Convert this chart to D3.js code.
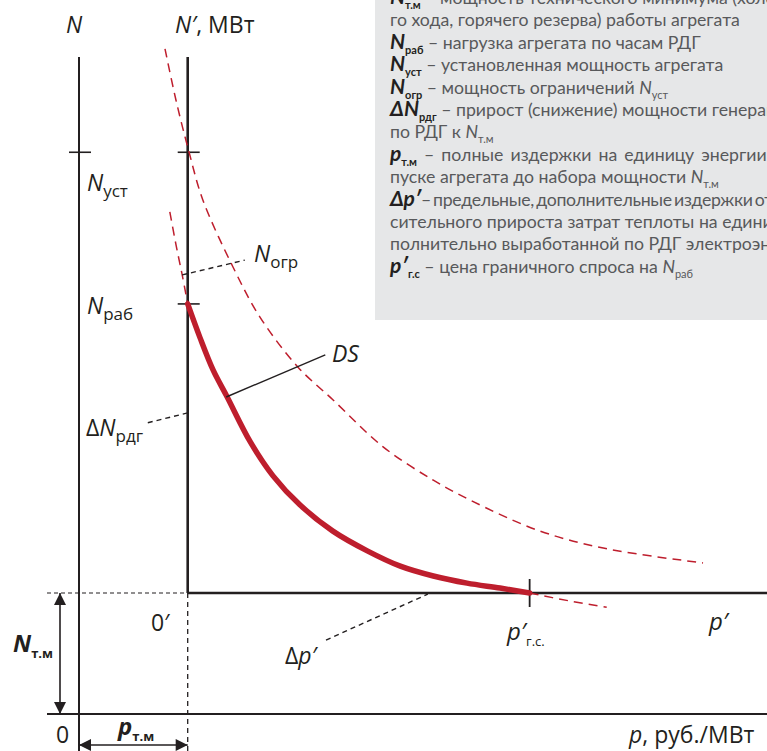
<!DOCTYPE html>
<html>
<head>
<meta charset="utf-8">
<script src="https://cdn.jsdelivr.net/npm/d3@7"></script>
<style>
  body { margin: 0; background: #fff; }
  svg { display: block; font-family: "Open Sans", sans-serif; }
  .lbl { fill: #231f20; font-size: 23px; }
  .leg { fill: #58595b; font-family: Lato, sans-serif; font-size: 17.7px; }
  .leg .b { fill: #231f20; font-weight: bold; font-style: italic; }
</style>
</head>
<body>
<svg width="767" height="751"></svg>
<script>
// key values (p in conventional units of руб./МВт, N in MW-like units)
const pTm = 15.8;      // p_т.м
const pGs = 65.5;      // p'_г.с
const nTm = 22.1;      // N_т.м
const nRab = 74.9;     // N_раб
const nUst = 102.6;    // N_уст
const pMax = 100, nMax = 120;

// demand curve DS (thick)
const dsP = [15.8, 17.6, 19.5, 21.5, 24.9, 28.2, 32.1, 36.9, 41.9, 46.7, 51.5, 56.4, 61.2, 65.5];
const dsN = [74.9, 68.7, 62.8, 58.0, 49.7, 43.5, 38.2, 33.4, 29.8, 27.0, 25.2, 23.9, 23.0, 22.1];
// dashed continuations of DS
const dsUpP = [13.2, 14.1, 15.0, 15.8];
const dsUpN = [91.7, 85.7, 80.2, 74.9];
const dsLowP = [65.5, 71.1, 76.7];
const dsLowN = [22.1, 20.7, 19.5];
// outer dashed curve (N_уст limit)
const ouP = [12.5, 14.1, 16.0, 18.0, 22.4, 26.3, 31.8, 36.9, 44.2, 51.5, 56.8, 66.6, 76.2, 90.7];
const ouN = [121.5, 112.1, 102.6, 93.9, 81.6, 72.5, 63.4, 57.4, 48.8, 42.7, 39.1, 33.6, 30.3, 27.6];

const legendLines = [
  [['b', 'N'], ['bs', 'т.м'], ['n', ' – мощность технического минимума (холостого']],
  [['n', 'го хода, горячего резерва) работы агрегата']],
  [['b', 'N'], ['bs', 'раб'], ['n', ' – нагрузка агрегата по часам РДГ']],
  [['b', 'N'], ['bs', 'уст'], ['n', ' – установленная мощность агрегата']],
  [['b', 'N'], ['bs', 'огр'], ['n', ' – мощность ограничений '], ['i', 'N'], ['s', 'уст']],
  [['b', 'ΔN'], ['bs', 'рдг'], ['n', ' – прирост (снижение) мощности генерации']],
  [['n', 'по РДГ к '], ['i', 'N'], ['s', 'т.м']],
  [['b', 'p'], ['bs', 'т.м'], ['n', ' – полные издержки на единицу энергии при']],
  [['n', 'пуске агрегата до набора мощности '], ['i', 'N'], ['s', 'т.м']],
  [['b', 'Δp′'], ['n', '– предельные, дополнительные издержки от']],
  [['n', 'сительного прироста затрат теплоты на единицу до']],
  [['n', 'полнительно выработанной по РДГ электроэнергии']],
  [['b', 'p′'], ['bs', 'г.с'], ['n', ' – цена граничного спроса на '], ['i', 'N'], ['s', 'раб']]
];

const svg = d3.select('svg');
const W = 767, H = 751;
const dark = '#231f20', red = '#be1e2d';

const x = d3.scaleLinear().domain([0, pMax]).range([79, 767]);
const y = d3.scaleLinear().domain([0, nMax]).range([714, 57]);

const line = d3.line().x(d => x(d[0])).y(d => y(d[1])).curve(d3.curveCatmullRom);
const zip = (a, b) => a.map((v, i) => [v, b[i]]);

// legend box
const lg = svg.append('g');
lg.append('rect')
    .attr('x', 375).attr('y', -5)
    .attr('width', 400).attr('height', 325)
    .attr('fill', '#e6e7e8');

legendLines.forEach((parts, i) => {
    const legText = lg.append('text').attr('class', 'leg')
        .attr('x', 390).attr('y', 4 + 22.4 * i);
    if (i === 7) legText.style('word-spacing', '2.5px');
    if (i === 9) legText.style('letter-spacing', '-0.3px').style('word-spacing', '-2px');
    let shifted = false;
    parts.forEach(p => {
        const t = legText.append('tspan').text(p[1]);
        const sub = p[0] === 'bs' || p[0] === 's';
        if (sub && !shifted) { t.attr('dy', 5); shifted = true; }
        else if (!sub && shifted) { t.attr('dy', -5); shifted = false; }
        if (p[0] === 'b') t.attr('class', 'b').style('font-size', '21px');
        if (p[0] === 'bs') t.attr('class', 'b').style('font-size', '11px').style('font-style', 'normal');
        if (p[0] === 'i') t.style('font-style', 'italic');
        if (p[0] === 's') t.style('font-size', '11px');
    });
});

// axes
const ax = svg.append('g').attr('stroke', dark).attr('fill', 'none');
ax.append('line').attr('x1', x(0)).attr('x2', x(0)).attr('y1', y(nMax)).attr('y2', H).attr('stroke-width', 2);
ax.append('line').attr('x1', 47).attr('x2', W).attr('y1', y(0)).attr('y2', y(0)).attr('stroke-width', 2);
ax.append('line').attr('x1', x(pTm)).attr('x2', x(pTm)).attr('y1', y(nMax)).attr('y2', y(nTm)).attr('stroke-width', 2.6);
ax.append('line').attr('x1', x(pTm)).attr('x2', W).attr('y1', y(nTm)).attr('y2', y(nTm)).attr('stroke-width', 2.6);
// dashed construction lines of the shifted origin 0'
ax.append('line').attr('x1', x(pTm)).attr('x2', x(pTm)).attr('y1', y(nTm)).attr('y2', H)
    .attr('stroke-width', 1.3).attr('stroke-dasharray', '5,4');
ax.append('line').attr('x1', 47).attr('x2', x(pTm)).attr('y1', y(nTm)).attr('y2', y(nTm))
    .attr('stroke-width', 1.1).attr('stroke-dasharray', '4,3');

// ticks
[[0, nUst], [pTm, nUst], [pTm, nRab]].forEach(d => {
    ax.append('line').attr('x1', x(d[0]) - 10).attr('x2', x(d[0]) + 12)
        .attr('y1', y(d[1])).attr('y2', y(d[1])).attr('stroke-width', 1.6);
});
ax.append('line').attr('x1', x(pGs)).attr('x2', x(pGs))
    .attr('y1', y(nTm) - 14).attr('y2', y(nTm) + 14).attr('stroke-width', 1.8);

// curves
svg.append('path').attr('d', line(zip(ouP, ouN)))
    .attr('fill', 'none').attr('stroke', red).attr('stroke-width', 1.5).attr('stroke-dasharray', '9,6');
svg.append('path').attr('d', line(zip(dsUpP, dsUpN)))
    .attr('fill', 'none').attr('stroke', red).attr('stroke-width', 1.5).attr('stroke-dasharray', '9,6');
svg.append('path').attr('d', line(zip(dsLowP, dsLowN)))
    .attr('fill', 'none').attr('stroke', red).attr('stroke-width', 1.5).attr('stroke-dasharray', '9,6');
svg.append('path').attr('d', line(zip(dsP, dsN)))
    .attr('fill', 'none').attr('stroke', red).attr('stroke-width', 5.5).attr('stroke-linecap', 'round');

// leader lines
const leaders = [
    { a: [15.0, 80.2], b: [24.1, 82.9], dash: '5,4' },   // N_огр
    { a: [21.4, 57.9], b: [35.8, 65.6], dash: null },    // DS
    { a: [10.0, 53.2], b: [15.8, 55.0], dash: '5,4' },   // ΔN_рдг
    { a: [35.9, 13.5], b: [50.7, 21.9], dash: '5,4' }    // Δp'
];
leaders.forEach(l => {
    svg.append('line')
        .attr('x1', x(l.a[0])).attr('y1', y(l.a[1]))
        .attr('x2', x(l.b[0])).attr('y2', y(l.b[1]))
        .attr('stroke', dark).attr('stroke-width', 1.4)
        .attr('stroke-dasharray', l.dash);
});

// double arrows
const defs = svg.append('defs');
defs.append('marker').attr('id', 'ar')
    .attr('viewBox', '0 -5 10 10').attr('refX', 10).attr('refY', 0)
    .attr('markerWidth', 15).attr('markerHeight', 12)
    .attr('markerUnits', 'userSpaceOnUse').attr('orient', 'auto-start-reverse')
  .append('path').attr('d', 'M0,-5L10,0L0,5Z').attr('fill', dark);

svg.append('line').attr('x1', 60).attr('x2', 60).attr('y1', y(nTm)).attr('y2', y(0))
    .attr('stroke', dark).attr('stroke-width', 1.6)
    .attr('marker-start', 'url(#ar)').attr('marker-end', 'url(#ar)');
svg.append('line').attr('x1', x(0)).attr('x2', x(pTm)).attr('y1', 745).attr('y2', 745)
    .attr('stroke', dark).attr('stroke-width', 1.6)
    .attr('marker-start', 'url(#ar)').attr('marker-end', 'url(#ar)');

// labels
function label(px, py, parts, size) {
    const t = svg.append('text').attr('class', 'lbl').attr('x', px).attr('y', py);
    if (size) t.style('font-size', size + 'px');
    let shifted = false;
    parts.forEach(p => {
        const s = t.append('tspan').text(p[1]);
        const sub = p[0].indexOf('s') >= 0;
        if (sub && !shifted) { s.attr('dy', 6); shifted = true; }
        else if (!sub && shifted) { s.attr('dy', -6); shifted = false; }
        if (p[0].indexOf('i') >= 0) s.style('font-style', 'italic');
        if (p[0].indexOf('b') >= 0) s.style('font-weight', 'bold');
        if (sub) s.style('font-size', p[2] || '17px');
    });
}
label(66, 33, [['i', 'N']]);
label(175, 33, [['i', 'N′'], ['n', ', МВт']]);
label(87, 191, [['i', 'N'], ['s', 'уст']]);
label(87, 314, [['i', 'N'], ['s', 'раб']]);
label(254, 262, [['i', 'N'], ['s', 'огр']]);
label(86, 436, [['n', 'Δ'], ['i', 'N'], ['s', 'рдг']]);
label(332, 362, [['i', 'DS']]);
label(151, 631, [['n', '0′']]);
label(56, 743, [['n', '0']]);
label(13, 652, [['bi', 'N'], ['bs', 'т.м', '13px']], 24);
label(118, 735, [['bi', 'p'], ['bs', 'т.м', '13px']], 24);
label(285, 664, [['n', 'Δ'], ['i', 'p′']]);
label(507, 640, [['i', 'p′'], ['s', 'г.с.', '13px']], 24);
label(709, 630, [['i', 'p′']], 24);
label(629, 743, [['i', 'p'], ['n', ', руб./МВт']]);
</script>
</body>
</html>
